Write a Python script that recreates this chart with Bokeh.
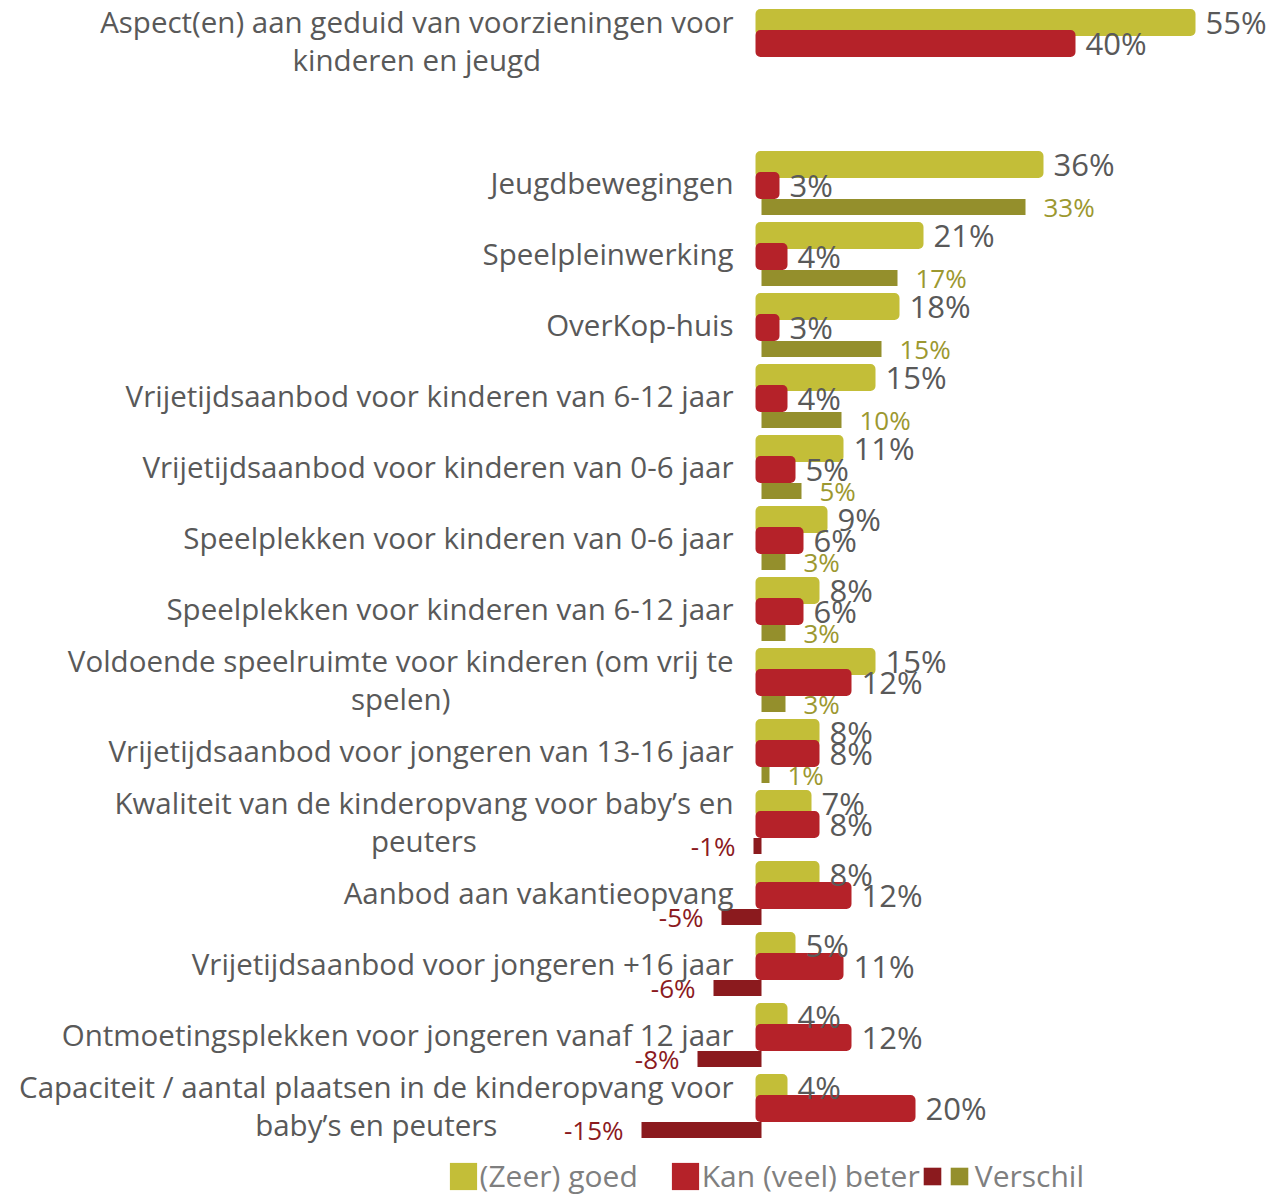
from bokeh.plotting import figure
from bokeh.models import ColumnDataSource, Range1d, Legend, LegendItem
from bokeh.core.properties import value
from bokeh.transform import dodge
from bokeh.embed import file_html
from bokeh.resources import INLINE

categories = [
    "Aspect(en) aan geduid van voorzieningen voor\nkinderen en jeugd",
    "Jeugdbewegingen",
    "Speelpleinwerking",
    "OverKop-huis",
    "Vrijetijdsaanbod voor kinderen van 6-12 jaar",
    "Vrijetijdsaanbod voor kinderen van 0-6 jaar",
    "Speelplekken voor kinderen van 0-6 jaar",
    "Speelplekken voor kinderen van 6-12 jaar",
    "Voldoende speelruimte voor kinderen (om vrij te\nspelen)",
    "Vrijetijdsaanbod voor jongeren van 13-16 jaar",
    "Kwaliteit van de kinderopvang voor baby\u2019s en\npeuters",
    "Aanbod aan vakantieopvang",
    "Vrijetijdsaanbod voor jongeren +16 jaar",
    "Ontmoetingsplekken voor jongeren vanaf 12 jaar",
    "Capaciteit / aantal plaatsen in de kinderopvang voor\nbaby\u2019s en peuters",
]
zeer_goed = [55, 36, 21, 18, 15, 11, 9, 8, 15, 8, 7, 8, 5, 4, 4]
kan_beter = [40, 3, 4, 3, 4, 5, 6, 6, 12, 8, 8, 12, 11, 12, 20]
verschil = [None, 33, 17, 15, 10, 5, 3, 3, 3, 1, -1, -5, -6, -8, -15]

FONT = "Open Sans"
YEL = "#C3BE38"
RED = "#B52229"
OLIVE = "#948F2C"
DRED = "#8B1A1E"
GRAY = "#595959"

# row positions: a blank row after the summary row
rows = [i if i == 0 else i + 1 for i in range(len(categories))]

W, H = 1276, 1196
ROW = 71.0
X0, X0V, Y0 = 755, 761, 43
p = figure(width=W, height=H, output_backend="svg", toolbar_location=None,
           x_range=Range1d(-X0 / 8, (W - X0) / 8),
           y_range=Range1d((H - Y0) / ROW, -Y0 / ROW),
           min_border=0, outline_line_color=None)
p.extra_x_ranges = {"v": Range1d(-X0V / 8, (W - X0V) / 8)}
p.axis.visible = False
p.grid.visible = False

src = ColumnDataSource(dict(
    y=rows, cat=categories, goed=zeer_goed, beter=kan_beter,
    goed_t=[f"{v}%" for v in zeer_goed], beter_t=[f"{v}%" for v in kan_beter],
))
vp = [(r, v) for r, v in zip(rows, verschil) if v is not None and v >= 0]
vn = [(r, v) for r, v in zip(rows, verschil) if v is not None and v < 0]
src_vp = ColumnDataSource(dict(y=[a for a, _ in vp], v=[b for _, b in vp], t=[f"{b}%" for _, b in vp]))
src_vn = ColumnDataSource(dict(y=[a for a, _ in vn], v=[b for _, b in vn], t=[f"{b}%" for _, b in vn]))

off_y = -21 / ROW
off_v = 21.5 / ROW

r_y = p.hbar(y=dodge("y", off_y, range=p.y_range), left=0, right="goed", height=27 / ROW,
             source=src, fill_color=YEL, line_color=None, border_radius=5)
r_r = p.hbar(y="y", left=0, right="beter", height=27 / ROW,
             source=src, fill_color=RED, line_color=None, border_radius=5)
r_vp = p.hbar(y=dodge("y", off_v, range=p.y_range), left=0, right="v", height=16 / ROW,
              source=src_vp, fill_color=OLIVE, line_color=None, x_range_name="v")
r_vn = p.hbar(y=dodge("y", off_v, range=p.y_range), left=0, right="v", height=16 / ROW,
              source=src_vn, fill_color=DRED, line_color=None, x_range_name="v")

p.text(x="goed", y=dodge("y", off_y, range=p.y_range), text="goed_t", source=src,
       x_offset=10, y_offset=-1, text_align="left", text_baseline="middle",
       text_font=value(FONT), text_font_size="31px", text_color=GRAY)
p.text(x="beter", y="y", text="beter_t", source=src,
       x_offset=10, y_offset=-1, text_align="left", text_baseline="middle",
       text_font=value(FONT), text_font_size="31px", text_color=GRAY)
p.text(x="v", y=dodge("y", off_v, range=p.y_range), text="t", source=src_vp, x_range_name="v",
       x_offset=18, text_align="left", text_baseline="middle",
       text_font=value(FONT), text_font_size="26px", text_color="#9C9830")
p.text(x="v", y=dodge("y", off_v, range=p.y_range), text="t", source=src_vn, x_range_name="v",
       x_offset=-18, text_align="right", text_baseline="middle",
       text_font=value(FONT), text_font_size="26px", text_color=DRED)

p.text(x=0, y="y", text="cat", source=src, x_offset=-22, y_offset=-3,
       anchor=value("center_right"), text_align="center", text_baseline="middle",
       text_line_height=0.93,
       text_font=value(FONT), text_font_size="29.5px", text_color=GRAY)

leg1 = Legend(items=[LegendItem(label="(Zeer) goed", renderers=[r_y]),
                     LegendItem(label="Kan (veel) beter", renderers=[r_r])],
              orientation="horizontal", location=(445.6, 0),
              glyph_width=34, glyph_height=34, label_standoff=0, spacing=30,
              label_text_font=FONT, label_text_font_size="30px", label_text_color="#7F7F7F",
              padding=0, margin=0, border_line_color=None, background_fill_alpha=0)
leg2 = Legend(items=[LegendItem(label="", renderers=[r_vn]),
                     LegendItem(label="Verschil", renderers=[r_vp])],
              orientation="horizontal", location=(920.8, 0),
              glyph_width=22, glyph_height=22, label_standoff=5, spacing=0, label_width=0,
              label_text_font=FONT, label_text_font_size="30px", label_text_color="#7F7F7F",
              padding=0, margin=0, border_line_color=None, background_fill_alpha=0)
p.add_layout(leg1)
p.add_layout(leg2)

open("out.html", "w").write(file_html(p, INLINE))
